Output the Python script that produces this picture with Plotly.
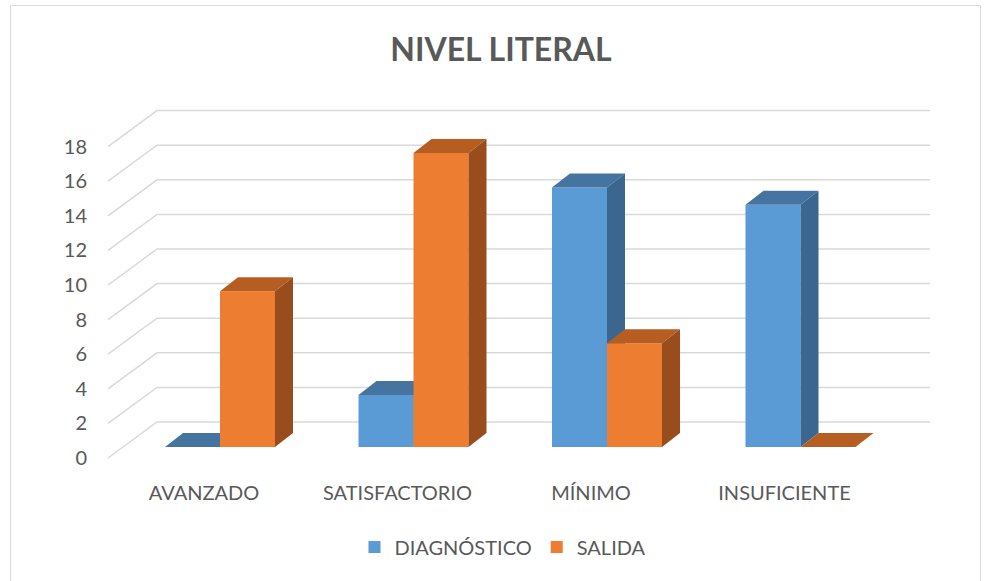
import plotly.graph_objects as go

categories = ["AVANZADO", "SATISFACTORIO", "MÍNIMO", "INSUFICIENTE"]
diagnostico = [0, 3, 15, 14]
salida = [9, 17, 6, 0]
y_ticks = [0, 2, 4, 6, 8, 10, 12, 14, 16, 18]
series_names = ["DIAGNÓSTICO", "SALIDA"]

# styling / geometry constants (pixels)
W, H = 987, 581
L, R, T, B = 108, 930, 95, 470
px_per_unit_y = 17.3
px_per_cat = 193.5
first_cat_px = 220
bar_px = 55
depth_dx_px, depth_dy_px = 18, 14
floor_front_px = 458      # pixel y of value 0 on the label plane
bar_base_px = 447         # pixel y of value 0 on the bar front plane
wall_dx_px, wall_dy_px = 49, 36

plot_h = B - T
span_y = plot_h / px_per_unit_y
x_lo = -(first_cat_px - L) / px_per_cat
x_hi = x_lo + (R - L) / px_per_cat
y1_lo = -(B - floor_front_px) / px_per_unit_y
y2_lo = -(B - bar_base_px) / px_per_unit_y
bw = bar_px / px_per_cat
ddx = depth_dx_px / px_per_cat
ddy = depth_dy_px / px_per_unit_y

front_cols = ["#5B9BD5", "#ED7D31"]
top_cols = ["#4674A0", "#B65D22"]
side_cols = ["#3A6690", "#9A4D1C"]
offsets = [-bw, 0.0]
yrefs = ["y2", "y3"]

fig = go.Figure()
for s, vals in enumerate([diagnostico, salida]):
    xs = list(range(len(categories)))
    fig.add_trace(go.Bar(
        x=xs, y=vals, width=[bw] * len(xs), offset=offsets[s],
        marker=dict(color=front_cols[s], line=dict(width=0)),
        name=series_names[s], yaxis=yrefs[s], showlegend=True,
        hoverinfo="skip"))
    for i, v in enumerate(vals):
        x0 = i + offsets[s]
        x1 = x0 + bw
        # top face
        fig.add_trace(go.Scatter(
            x=[x0, x1, x1 + ddx, x0 + ddx, x0],
            y=[v, v, v + ddy, v + ddy, v],
            fill="toself", fillcolor=top_cols[s], mode="lines",
            line=dict(width=0, color=top_cols[s]),
            yaxis=yrefs[s], showlegend=False, hoverinfo="skip"))
        if v > 0:
            fig.add_trace(go.Scatter(
                x=[x1, x1, x1 + ddx, x1 + ddx, x1],
                y=[0, v, v + ddy, ddy, 0],
                fill="toself", fillcolor=side_cols[s], mode="lines",
                line=dict(width=0, color=side_cols[s]),
                yaxis=yrefs[s], showlegend=False, hoverinfo="skip"))

# 3D-style gridlines (front diagonal + back wall)
wall_x = wall_dx_px / (R - L)
wall_dy = wall_dy_px / px_per_unit_y
shapes = []
for v in y_ticks:
    shapes.append(dict(
        type="path", xref="paper", yref="y", layer="below",
        path=f"M 0,{v} L {wall_x},{v + wall_dy} L 1,{v + wall_dy}",
        line=dict(color="#D9D9D9", width=1.5)))
# chart border
shapes.append(dict(
    type="rect", xref="paper", yref="paper",
    x0=(10.5 - L) / (R - L), x1=(980.5 - L) / (R - L),
    y0=(B - 600) / plot_h, y1=(B - 5.5) / plot_h,
    line=dict(color="#D9D9D9", width=1), layer="below"))

txt = "#595959"
fig.update_layout(
    width=W, height=H,
    margin=dict(l=L, r=W - R, t=T, b=H - B),
    paper_bgcolor="white", plot_bgcolor="rgba(0,0,0,0)",
    font=dict(family="Lato", color=txt, size=20),
    title=dict(text="<b>NIVEL LITERAL</b>", x=501 / W, xref="container",
               xanchor="center", y=1 - 50 / H, yref="container",
               yanchor="middle", font=dict(size=32, color=txt, family="Lato")),
    barmode="overlay",
    showlegend=True,
    legend=dict(orientation="h", x=(503 - L) / (R - L), xanchor="center",
                y=-(547 - B) / plot_h, yanchor="middle",
                font=dict(size=20, color=txt), traceorder="normal",
                itemclick=False),
    xaxis=dict(range=[x_lo, x_hi], tickvals=list(range(len(categories))),
               ticktext=categories, showgrid=False, zeroline=False,
               showline=False, ticks="", ticklabelshift=-16,
               ticklabelstandoff=9, tickfont=dict(size=20, color=txt)),
    yaxis=dict(range=[y1_lo, y1_lo + span_y], tickvals=y_ticks,
               showgrid=False, zeroline=False, showline=False, ticks="",
               ticklabelstandoff=20, tickfont=dict(size=20, color=txt)),
    yaxis2=dict(range=[y2_lo, y2_lo + span_y], overlaying="y", visible=False),
    yaxis3=dict(range=[y2_lo, y2_lo + span_y], overlaying="y", visible=False),
    shapes=shapes,
)

fig.write_html("out.html", config={"displayModeBar": False},
               post_script="document.body.style.margin='0px';")
